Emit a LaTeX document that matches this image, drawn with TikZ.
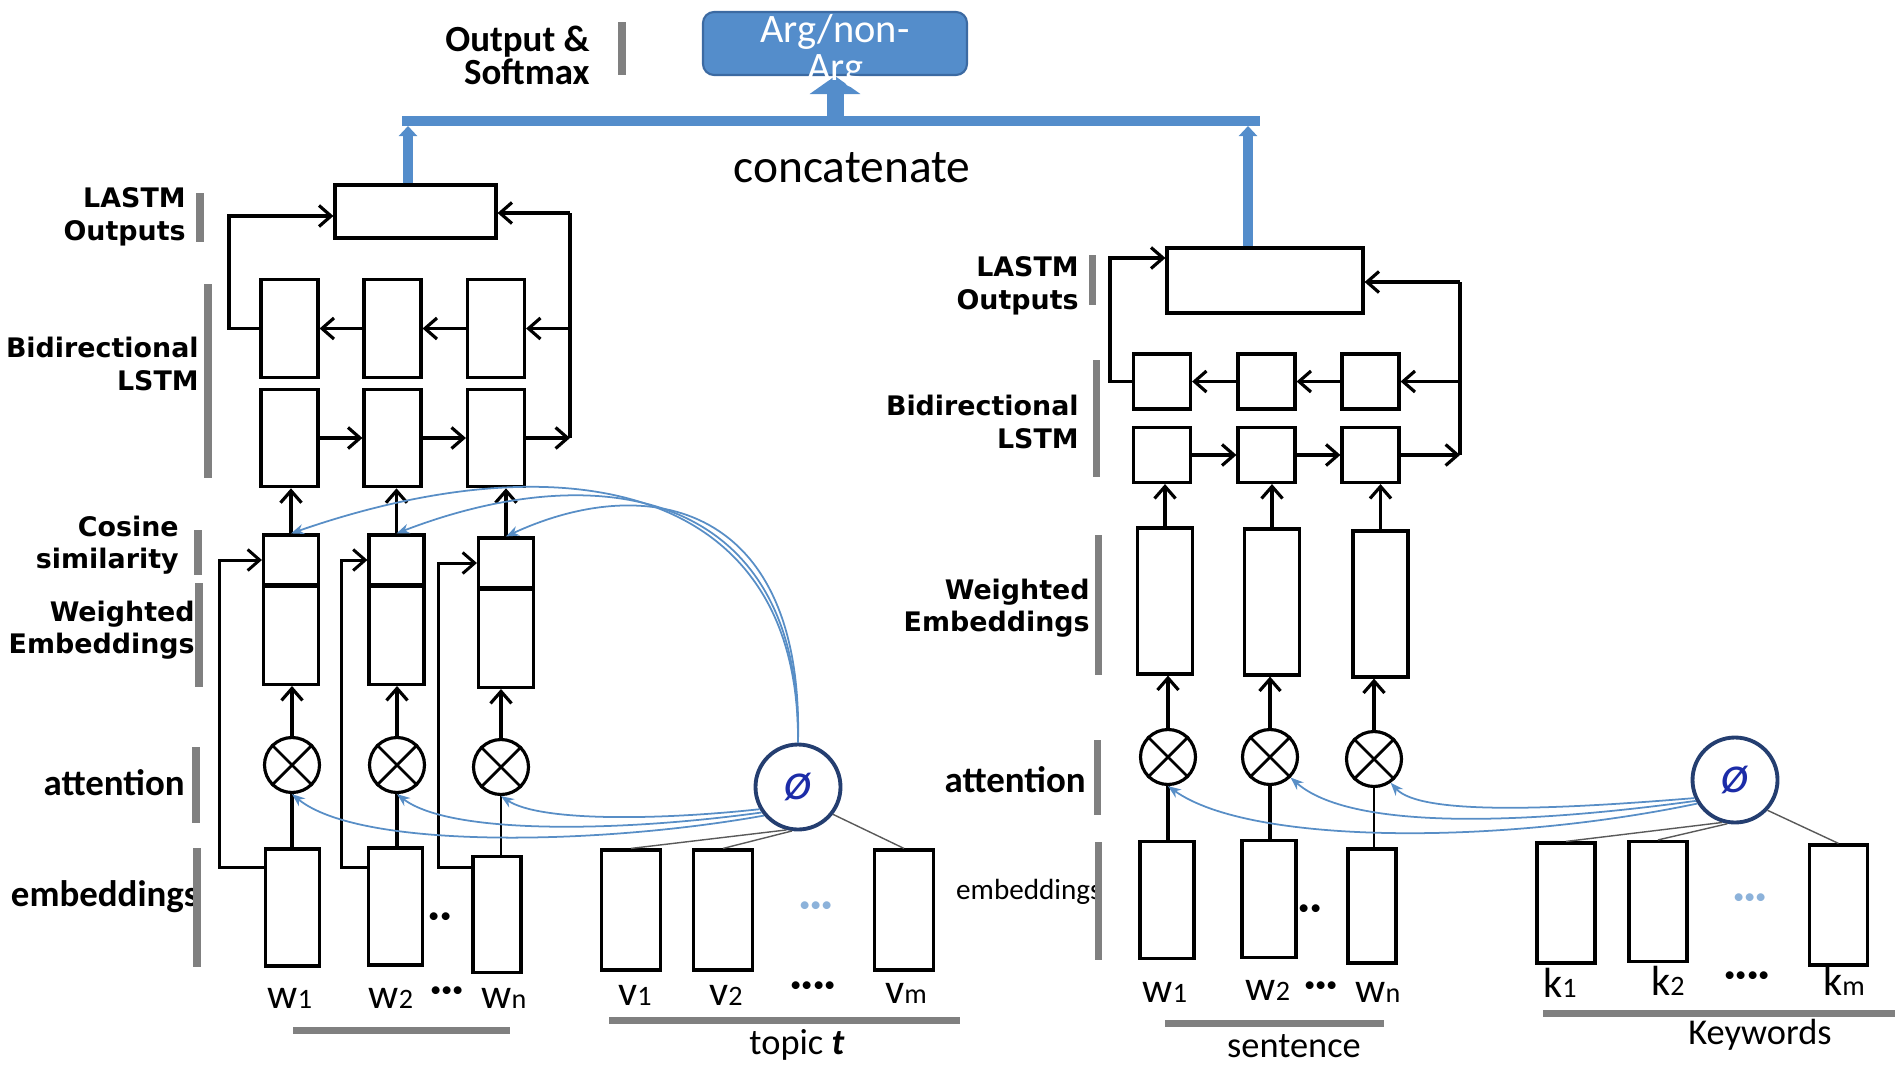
\documentclass[tikz,border=0pt]{standalone}
\usepackage{fontspec}
\setmainfont{Carlito}
\newfontfamily\widesans{DejaVu Sans}
\usetikzlibrary{arrows.meta,positioning}
\definecolor{steel}{RGB}{84,141,203}
\definecolor{steeldark}{RGB}{60,106,162}
\definecolor{wire}{RGB}{88,142,198}
\definecolor{navy}{RGB}{36,62,112}
\definecolor{phiblue}{RGB}{28,44,168}
\definecolor{rulegray}{RGB}{128,128,128}
\definecolor{dotblue}{RGB}{140,178,218}
\newcommand{\fsz}[2]{\fontsize{#1}{#2}\selectfont}
\newcommand{\tok}[2]{#1{\fsz{16}{16}#2}}
\tikzset{
  >={Straight Barb[length=2.4mm,width=4.2mm]},
  cell/.style={draw,line width=1.8pt,inner sep=0pt,minimum width=#1},
  cell/.default=11.2mm,
  lstm/.style={cell=11.4mm,minimum height=19.5mm},
  lstm sq/.style={cell=11.4mm,minimum height=11mm},
  sim/.style={cell=11mm,minimum height=10mm},
  wemb/.style={cell=11mm,minimum height=#1},
  wemb/.default=19.6mm,
  emb/.style={cell=10.8mm,minimum height=23.4mm},
  vec/.style={cell=11.8mm,minimum height=24mm},
  lastm/.style={cell=#1,minimum height=10.6mm},
  mult/.style={circle,draw,line width=1.8pt,minimum size=11mm,inner sep=0pt},
  phi/.style={circle,draw=navy,line width=2.2pt,fill=white,minimum size=17mm,
    text=phiblue,font=\fsz{30}{30}\itshape},
  link/.style={->,line width=1.8pt},
  feed/.style={->,line width=1.7pt},
  wire/.style={draw=wire,line width=1pt,-{Stealth[length=2.6mm,width=2mm]}},
  tie/.style={draw=black!65,line width=0.8pt},
  rulebar/.style={draw=rulegray,line width=4pt},
  tier/.style={font=\widesans\bfseries\fsz{15.3}{18.5},align=right,anchor=east,inner sep=0pt},
  tier2/.style={font=\bfseries\fsz{21}{18},align=right,anchor=east,inner sep=0pt},
  token/.style={font=\fsz{24}{24},inner sep=0pt},
  caption/.style={font=\fsz{20.7}{24},inner sep=0pt},
  bus/.style={draw=steel,line width=2mm},
}
\begin{document}
\begin{tikzpicture}[x=0.2mm,y=-0.2mm]
\useasboundingbox (0,0) rectangle (1895,1065);

% output and concatenation
\node[draw=steeldark,fill=steel,line width=1.2pt,rounded corners=2.2mm,
  minimum width=52.8mm,minimum height=12.6mm] (arg) at (835,43.5) {};
\coordinate (busL) at (408,121);
\coordinate (busR) at (1248,121);
\node[lastm=32.2mm] (lastmL) at (415.5,211.5) {};
\node[lastm=39.2mm,minimum height=13mm] (lastmR) at (1265,280.5) {};
\draw[bus] ([xshift=-1.2mm]busL) -- ([xshift=2.4mm]busR);
\draw[bus,-{Triangle[length=2mm,width=3.6mm]}] (busL |- lastmL.north) -- ([yshift=-1mm]busL);
\draw[bus,-{Triangle[length=2mm,width=3.6mm]}] (busR |- lastmR.north) -- ([yshift=-1mm]busR);
\draw[draw=steel,line width=3.4mm,-{Triangle[length=3.6mm,width=10mm]}] (arg.south |- busL) -- (arg.south);
\node[font=\fsz{23}{22},text=white,align=center] (argtxt) at (835,51) {Arg/non-\\Arg};
\node[font=\fsz{27}{27}] (concat) at (852,168) {concatenate};
\node[tier2,font=\bfseries\fsz{21}{17.6}] (outlbl) at (590,55) {Output \&\\Softmax};
\draw[rulebar] (622,22) -- (622,75);

% left branch: sentence with topic
\foreach \i/\x in {1/289.5,2/392.5,3/496}{
  \node[lstm] (bwL\i) at (\x,328.5) {};
  \node[lstm] (fwL\i) at (\x,438) {};
}
\foreach \i/\x/\y in {1/291/560,2/396.5/560,3/506/563}{
  \node[sim] (simL\i) at (\x,\y) {};
  \node[wemb,below=-1pt of simL\i] (wembL\i) {};
}
\foreach \i/\x/\y in {1/292/765,2/397/765,3/501/767}
  \node[mult] (mL\i) at (\x,\y) {};
\node[emb] (embL1) at (292.5,907.5) {};
\node[emb] (embL2) at (395.5,906.5) {};
\node[emb,minimum width=9.6mm,minimum height=23.2mm] (embL3) at (497,914.5) {};
\foreach \n/\x in {v1/631,v2/723,vm/904}
  \node[vec] (\n) at (\x,910) {};
\node[phi] (phiL) at (798,787) {ø};

\foreach \i in {1,2,3}{
  \draw[link] (simL\i.north) -- (simL\i.north |- fwL\i.south);
  \draw[link] (mL\i.north) -- (mL\i.north |- wembL\i.south);
}
\draw[line width=1.8pt] (mL1.south) -- (mL1.south |- embL1.north);
\draw[line width=1.8pt] (mL2.south) -- (mL2.south |- embL2.north);
\draw[line width=0.8pt] (mL3.south) -- (mL3.south |- embL3.north);
\draw[feed] ([yshift=8.1mm]embL1.west) -| ([xshift=-8.4mm]simL1.west) -- (simL1.west);
\draw[feed] ([yshift=7.9mm]embL2.west) -| ([xshift=-5.1mm]simL2.west) -- (simL2.west);
\draw[feed] ([yshift=9.4mm]embL3.west) -| ([xshift=-7.6mm]simL3.west) -- (simL3.west);

\draw[link] (bwL3.west) -- (bwL2.east);
\draw[link] (bwL2.west) -- (bwL1.east);
\draw[link] (fwL1.east) -- (fwL2.west);
\draw[link] (fwL2.east) -- (fwL3.west);
\coordinate (ltL) at (229,216);
\coordinate (rtL) at (570,213);
\draw[link] (bwL1.west) -| (ltL) -- (lastmL.west |- ltL);
\draw[line width=1.8pt] (rtL) -- (rtL |- fwL3.east);
\draw[link] (rtL) -- (lastmL.east |- rtL);
\draw[link] (rtL |- bwL3.east) -- (bwL3.east);
\draw[link] (fwL3.east) -- (rtL |- fwL3.east);

\draw[wire] (phiL.north) .. controls (800,480) and (560,440) .. (simL1.north);
\draw[wire] (phiL.north) .. controls (802,490) and (600,455) .. (simL2.north);
\draw[wire] (phiL.north) .. controls (804,505) and (650,470) .. (simL3.north);
\draw[wire] (phiL.220) .. controls (600,845) and (360,850) .. (mL1.south);
\draw[wire] (phiL.215) .. controls (620,832) and (450,835) .. (mL2.south);
\draw[wire] (phiL.210) .. controls (660,820) and (540,822) .. (mL3.south);
\draw[tie] (phiL.255) -- (v1.north);
\draw[tie] (phiL.262) -- (v2.north);
\draw[tie] (phiL.-38) -- (vm.north);

% right branch: sentence with keywords
\foreach \i/\x in {1/1162,2/1266.5,3/1370.5}{
  \node[lstm sq] (bwR\i) at (\x,381.5) {};
  \node[lstm sq] (fwR\i) at (\x,455) {};
}
\foreach \i/\x/\y in {1/1165/601,2/1272/602,3/1380.5/604}
  \node[wemb=29.2mm] (wembR\i) at (\x,\y) {};
\foreach \i/\x/\y in {1/1168/757,2/1270/757,3/1374/759}
  \node[mult] (mR\i) at (\x,\y) {};
\node[emb] (embR1) at (1167,900) {};
\node[emb] (embR2) at (1269,899) {};
\node[emb,minimum width=9.6mm,minimum height=22.8mm] (embR3) at (1372,906) {};
\foreach \n/\x/\y in {k1/1566/903,k2/1658/901.5,km/1838.5/905}
  \node[vec,minimum width=11.6mm] (\n) at (\x,\y) {};
\node[phi] (phiR) at (1735,780) {ø};

\foreach \i in {1,2,3}{
  \draw[link] (wembR\i.north) -- (wembR\i.north |- fwR\i.south);
  \draw[link] (mR\i.north) -- (mR\i.north |- wembR\i.south);
}
\draw[line width=1.8pt] (mR1.south) -- (mR1.south |- embR1.north);
\draw[line width=1.8pt] (mR2.south) -- (mR2.south |- embR2.north);
\draw[line width=0.8pt] (mR3.south) -- (mR3.south |- embR3.north);

\draw[link] (bwR3.west) -- (bwR2.east);
\draw[link] (bwR2.west) -- (bwR1.east);
\draw[link] (fwR1.east) -- (fwR2.west);
\draw[link] (fwR2.east) -- (fwR3.west);
\coordinate (ltR) at (1110,258);
\coordinate (rtR) at (1460,282);
\draw[link] (bwR1.west) -| (ltR) -- (lastmR.west |- ltR);
\draw[line width=1.8pt] (rtR) -- (rtR |- fwR3.east);
\draw[link] (rtR) -- (lastmR.east |- rtR);
\draw[link] (rtR |- bwR3.east) -- (bwR3.east);
\draw[link] (fwR3.east) -- (rtR |- fwR3.east);

\draw[wire] (phiR.212) .. controls (1500,845) and (1250,845) .. (mR1.-90);
\draw[wire] (phiR.208) .. controls (1520,825) and (1350,830) .. (mR2.-45);
\draw[wire] (phiR.204) .. controls (1550,810) and (1420,815) .. (mR3.-55);
\draw[tie] (phiR.253) -- (k1.north);
\draw[tie] (phiR.260) -- (k2.north);
\draw[tie] (phiR.-43) -- (km.north);

\foreach \n in {mL1,mL2,mL3,mR1,mR2,mR3}
  \draw[line width=1.6pt] (\n.45) -- (\n.225) (\n.135) -- (\n.315);

% layer names
\node[tier] (lastmLlbl) at (186,217) {LASTM\\Outputs};
\node[tier] (bilstmLlbl) at (199,364) {Bidirectional\\LSTM};
\node[tier] (cosLlbl) at (179,545) {Cosine\\similarity};
\node[tier] (wembLlbl) at (195,630) {Weighted\\Embeddings};
\node[tier2] (attLlbl) at (185,783) {attention};
\node[tier2] (embLlbl) at (199,897) {embeddings};
\draw[rulebar] (200,193) -- (200,242);
\draw[rulebar] (208,284) -- (208,478);
\draw[rulebar] (198,530) -- (198,575);
\draw[rulebar] (199,583) -- (199,687);
\draw[rulebar] (196,747) -- (196,823);
\draw[rulebar] (197,848) -- (197,967);

\node[tier] (lastmRlbl) at (1079,286) {LASTM\\Outputs};
\node[tier] (bilstmRlbl) at (1079,422) {Bidirectional\\LSTM};
\node[tier] (wembRlbl) at (1090,608) {Weighted\\Embeddings};
\node[tier2] (attRlbl) at (1086,780) {attention};
\node[anchor=east,inner sep=0pt,font=\fsz{16.6}{18}] (embRlbl) at (1102,892) {embeddings};
\draw[rulebar] (1092,255) -- (1092,305);
\draw[rulebar] (1096,360) -- (1096,477);
\draw[rulebar] (1098,535) -- (1098,675);
\draw[rulebar] (1097,740) -- (1097,815);
\draw[rulebar] (1098,842) -- (1098,960);

% inputs
\node[token] (wL1) at (290,998) {\tok{w}{1}};
\node[token] (wL2) at (391,998) {\tok{w}{2}};
\node[token,font=\bfseries\fsz{24}{24}] (wLdots) at (447,995) {···};
\node[token] (wLn) at (504,998) {\tok{w}{n}};
\node[token,font=\bfseries\fsz{24}{24}] (embLgap) at (440,921) {··};
\node[token] (vL1) at (635,995) {\tok{v}{1}};
\node[token] (vL2) at (726,995) {\tok{v}{2}};
\node[token,font=\bfseries\fsz{24}{24}] (vLdots) at (813,990) {····};
\node[token] (vLm) at (906,993) {\tok{v}{m}};
\node[token,text=dotblue,font=\bfseries\fsz{24}{24}] (vgap) at (816,910) {···};
\draw[rulebar] (293,1030) -- (510,1030);
\draw[rulebar] (609,1020) -- (960,1020);
\node[caption] (topiclbl) at (797,1045) {topic \textbf{\textit{t}}};

\node[token] (wR1) at (1165,992) {\tok{w}{1}};
\node[token] (wR2) at (1268,990) {\tok{w}{2}};
\node[token,font=\bfseries\fsz{24}{24}] (wRdots) at (1321,990) {···};
\node[token] (wRn) at (1378,992) {\tok{w}{n}};
\node[token,font=\bfseries\fsz{24}{24}] (embRgap) at (1310,913) {··};
\node[token] (kR1) at (1560,983) {\tok{k}{1}};
\node[token] (kR2) at (1668,981) {\tok{k}{2}};
\node[token,font=\bfseries\fsz{24}{24}] (kRdots) at (1747,980) {····};
\node[token] (kRm) at (1844,981) {\tok{k}{m}};
\node[token,text=dotblue,font=\bfseries\fsz{24}{24}] (kgap) at (1750,902) {···};
\draw[rulebar] (1165,1023) -- (1384,1023);
\draw[rulebar] (1543,1013) -- (1895,1013);
\node[caption] (sentlbl) at (1294,1046) {sentence};
\node[caption] (kwlbl) at (1760,1035) {Keywords};
\end{tikzpicture}
\end{document}
